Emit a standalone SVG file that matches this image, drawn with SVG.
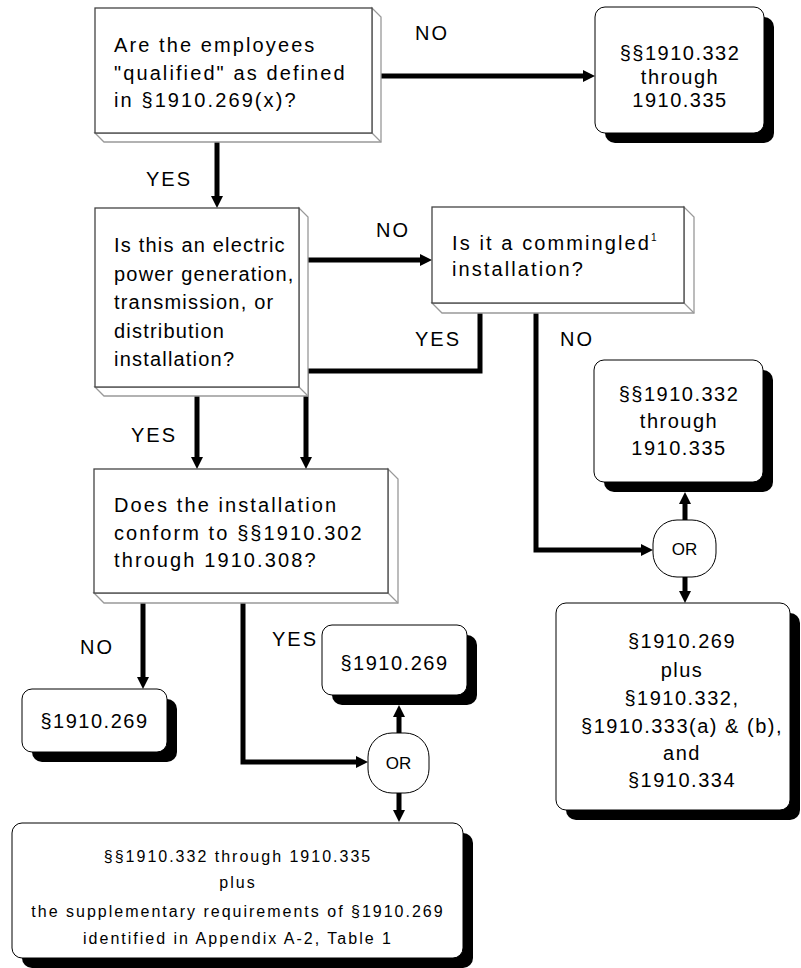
<svg xmlns="http://www.w3.org/2000/svg" width="801" height="968" viewBox="0 0 801 968">
<style>
text{font-family:"Liberation Sans",Arial,Helvetica,sans-serif;fill:#000}
.q{font-size:20px;letter-spacing:2.1px}
.q2{font-size:20px;letter-spacing:1.2px}
.a{font-size:20px;letter-spacing:1.5px;text-anchor:middle}
.b{font-size:16px;letter-spacing:2px;text-anchor:middle}
.l{font-size:20px;letter-spacing:2px}
.or{font-size:17px;text-anchor:middle}
.front{fill:#fff;stroke:#444;stroke-width:1.3}
.bev{fill:#fff;stroke:#999;stroke-width:1.3}
.box{fill:#fff;stroke:#000;stroke-width:1}
.sh{fill:#000}
.orb{fill:#fff;stroke:#000;stroke-width:1}
.c{fill:none;stroke:#000;stroke-width:5;marker-end:url(#ah)}
</style>
<defs>
<marker id="ah" markerUnits="userSpaceOnUse" markerWidth="13" markerHeight="13" refX="0" refY="6" orient="auto" overflow="visible">
<path d="M-1,0 L11,6 L-1,12 z" fill="#000"/>
</marker>
</defs>

<g id="connectors">
<path class="c" d="M217,142 V197"/>
<path class="c" d="M381,76 H584"/>
<path class="c" d="M308,260 H421"/>
<path class="c" d="M480,313 V371 H306 V458"/>
<path class="c" d="M536,313 V550 H642"/>
<path class="c" d="M197,396 V458"/>
<path class="c" d="M685,520 V503"/>
<path class="c" d="M685,577 V592"/>
<path class="c" d="M143,603 V678"/>
<path class="c" d="M243,603 V762 H357"/>
<path class="c" d="M399,733 V716"/>
<path class="c" d="M399,793 V811"/>
<text class="l" x="146" y="186">YES</text>
<text class="l" x="415" y="40">NO</text>
<text class="l" x="376" y="237">NO</text>
<text class="l" x="415" y="346">YES</text>
<text class="l" x="560" y="346">NO</text>
<text class="l" x="131" y="442">YES</text>
<text class="l" x="80" y="654">NO</text>
<text class="l" x="272" y="646">YES</text>
</g>

<g id="q1">
<polygon class="bev" points="95,133 104,142 381,142 381,17 372,8 372,133"/>
<line class="bev" x1="372" y1="133" x2="381" y2="142"/>
<rect class="front" x="95" y="8" width="277" height="125"/>
<text class="q" x="114" y="52">Are the employees</text>
<text class="q" x="114" y="79.5">"qualified" as defined</text>
<text class="q" x="114" y="107">in §1910.269(x)?</text>
</g>

<g id="a1">
<rect class="sh" x="605" y="17" width="169" height="126" rx="10"/>
<rect class="box" x="595" y="7" width="169" height="126" rx="10"/>
<text class="a" x="680" y="60">§§1910.332</text>
<text class="a" x="680" y="84">through</text>
<text class="a" x="680" y="107">1910.335</text>
</g>

<g id="q2">
<polygon class="bev" points="95,387 104,396 308,396 308,217 299,208 299,387"/>
<line class="bev" x1="299" y1="387" x2="308" y2="396"/>
<rect class="front" x="95" y="208" width="204" height="179"/>
<text class="q2" x="114" y="252">Is this an electric</text>
<text class="q2" x="114" y="280.5">power generation,</text>
<text class="q2" x="114" y="309">transmission, or</text>
<text class="q2" x="114" y="337.5">distribution</text>
<text class="q2" x="114" y="366">installation?</text>
</g>

<g id="q3">
<polygon class="bev" points="432,303 442,313 694,313 694,217 684,207 684,303"/>
<line class="bev" x1="684" y1="303" x2="694" y2="313"/>
<rect class="front" x="432" y="207" width="252" height="96"/>
<text class="q" x="452" y="250">Is it a commingled<tspan font-size="10" dy="-9" letter-spacing="0">1</tspan></text>
<text class="q" x="452" y="276">installation?</text>
</g>

<g id="a2">
<rect class="sh" x="604" y="370" width="169" height="122" rx="10"/>
<rect class="box" x="594" y="360" width="169" height="122" rx="10"/>
<text class="a" x="679" y="401">§§1910.332</text>
<text class="a" x="679" y="428">through</text>
<text class="a" x="679" y="455">1910.335</text>
</g>

<g id="or1">
<rect class="orb" x="653" y="520" width="63" height="57" rx="24"/>
<text class="or" x="684.5" y="555">OR</text>
</g>

<g id="a3">
<rect class="sh" x="566" y="613" width="234" height="207" rx="10"/>
<rect class="box" x="556" y="603" width="234" height="207" rx="10"/>
<text class="a" x="682" y="648">§1910.269</text>
<text class="a" x="682" y="677">plus</text>
<text class="a" x="682" y="705">§1910.332,</text>
<text class="a" x="682" y="733">§1910.333(a) &amp; (b),</text>
<text class="a" x="682" y="760">and</text>
<text class="a" x="682" y="787">§1910.334</text>
</g>

<g id="q4">
<polygon class="bev" points="94,593 104,603 398,603 398,479 388,469 388,593"/>
<line class="bev" x1="388" y1="593" x2="398" y2="603"/>
<rect class="front" x="94" y="469" width="294" height="124"/>
<text class="q" x="114" y="512">Does the installation</text>
<text class="q" x="114" y="539.5">conform to §§1910.302</text>
<text class="q" x="114" y="567">through 1910.308?</text>
</g>

<g id="a4">
<rect class="sh" x="32" y="699" width="145" height="63" rx="10"/>
<rect class="box" x="22" y="689" width="145" height="63" rx="10"/>
<text class="a" x="94.5" y="728">§1910.269</text>
</g>

<g id="a5">
<rect class="sh" x="332" y="635" width="145" height="70" rx="10"/>
<rect class="box" x="322" y="625" width="145" height="70" rx="10"/>
<text class="a" x="394.5" y="670">§1910.269</text>
</g>

<g id="or2">
<rect class="orb" x="368" y="733" width="61" height="60" rx="24"/>
<text class="or" x="398.5" y="769">OR</text>
</g>

<g id="a6">
<rect class="sh" x="22" y="833" width="451" height="135" rx="10"/>
<rect class="box" x="12" y="823" width="451" height="135" rx="10"/>
<text class="b" x="238" y="862">§§1910.332 through 1910.335</text>
<text class="b" x="238" y="888">plus</text>
<text class="b" x="238" y="917">the supplementary requirements of §1910.269</text>
<text class="b" x="238" y="944">identified in Appendix A-2, Table 1</text>
</g>
</svg>
